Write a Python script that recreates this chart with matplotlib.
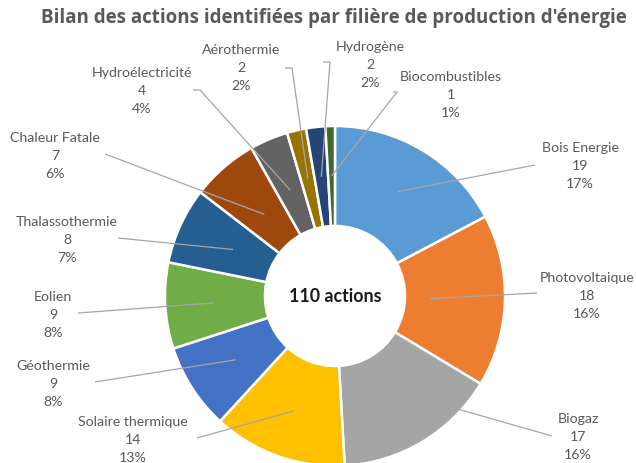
import numpy as np
import matplotlib
matplotlib.use("Agg")
import matplotlib.pyplot as plt

# ---- data ----
categories = ["Bois Energie", "Photovoltaique", "Biogaz", "Solaire thermique",
              "Géothermie", "Eolien", "Thalassothermie", "Chaleur Fatale",
              "Hydroélectricité", "Aérothermie", "Hydrogène", "Biocombustibles"]
values = [19, 18, 17, 14, 9, 9, 8, 7, 4, 2, 2, 1]
percents = ["17%", "16%", "16%", "13%", "8%", "8%", "7%", "6%", "4%", "2%", "2%", "1%"]
colors = ["#5B9BD5", "#ED7D31", "#A5A5A5", "#FFC000", "#4472C4", "#70AD47",
          "#255E91", "#9E480E", "#636363", "#997300", "#264478", "#43682B"]
title = "Bilan des actions identifiées par filière de production d'énergie"
center_text = "110 actions"

# ---- layout (pixel coordinates, y measured from top) ----
W, H = 636, 464
CX, CY, R = 335, 297, 170
HOLE = 70
# label text centres (x, y of middle line)
label_pos = [(580, 166), (587, 296), (578, 437), (133, 440), (53, 384),
             (53, 315), (67, 240), (55, 156), (142, 91), (241, 68),
             (370, 65), (451, 95)]
# leader line start near label (pixel)
line_start = [[(535, 166)], [(537, 294)], [(552, 437)], [(197, 439)],
              [(95, 383)], [(78, 314)], [(118, 239)], [(105, 155)],
              [(193, 91), (200, 91)], [(285, 69), (292, 69)],
              [(323, 63), (330, 63)], [(393, 93), (397, 93)]]
anchor_r = [122, 95, 110, 122, 118, 122, 112, 108, 115, 120, 120, 120]

fig = plt.figure(figsize=(W / 100, H / 100), dpi=100)
ax = fig.add_axes([0, 0, 1, 1])
ax.set_xlim(0, W)
ax.set_ylim(0, H)
ax.set_aspect("equal")
ax.axis("off")

def fy(y):
    return H - y

wedges, _ = ax.pie(values, colors=colors, startangle=90, counterclock=False,
                   radius=R, center=(CX, fy(CY)),
                   wedgeprops=dict(width=R - HOLE, edgecolor="white", linewidth=1.8))
ax.set_xlim(0, W)
ax.set_ylim(0, H)

total = sum(values)
cum = 0
label_color = "#595959"
for i, v in enumerate(values):
    mid = 90 - 360 * (cum + v / 2) / total
    cum += v
    ax_ = CX + anchor_r[i] * np.cos(np.radians(mid))
    ay_ = fy(CY) + anchor_r[i] * np.sin(np.radians(mid))
    pts = [(x, fy(y)) for (x, y) in line_start[i]] + [(ax_, ay_)]
    xs, ys = zip(*pts)
    ax.plot(xs, ys, color="#A6A6A6", lw=0.9, solid_capstyle="butt", zorder=3)
    lx, ly = label_pos[i]
    ax.text(lx, fy(ly), f"{categories[i]}\n{v}\n{percents[i]}", ha="center", va="center",
            fontsize=10.2, family="Lato", color=label_color, linespacing=1.6, zorder=4)

ax.text(CX, fy(CY), center_text, ha="center", va="center", fontsize=12.8,
        fontweight="bold", family="Lato", color="#1a1a1a")
fig.text(334 / W, 1 - 18 / H, title, ha="center", va="center", fontsize=13.5,
         fontweight="bold", family="Open Sans", color="#595959")

fig.savefig("out.png", dpi=100)
